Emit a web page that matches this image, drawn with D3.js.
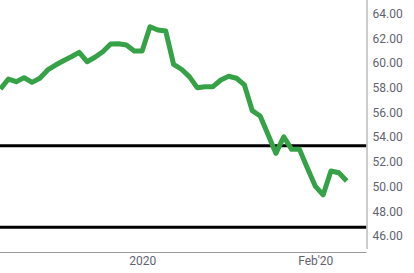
<!DOCTYPE html>
<html>
<head>
<meta charset="utf-8">
<script src="https://cdn.jsdelivr.net/npm/d3@7"></script>
<style>
  html, body { margin: 0; padding: 0; background: #fff; }
  .axis text { font-family: Roboto, Arial, sans-serif; font-size: 12px; fill: #5f6370; }
  .axis path { stroke: #9a9a9a; }
</style>
</head>
<body>
<div id="chart"></div>
<script>
const dates = [
  '2019-12-05', '2019-12-06', '2019-12-09', '2019-12-10', '2019-12-11', '2019-12-12', '2019-12-13',
  '2019-12-16', '2019-12-17', '2019-12-18', '2019-12-19', '2019-12-20', '2019-12-23', '2019-12-24',
  '2019-12-26', '2019-12-27', '2019-12-30', '2019-12-31', '2020-01-02', '2020-01-03', '2020-01-06',
  '2020-01-07', '2020-01-08', '2020-01-09', '2020-01-10', '2020-01-13', '2020-01-14', '2020-01-15',
  '2020-01-16', '2020-01-17', '2020-01-20', '2020-01-21', '2020-01-22', '2020-01-23', '2020-01-24',
  '2020-01-27', '2020-01-28', '2020-01-29', '2020-01-30', '2020-01-31', '2020-02-03', '2020-02-04',
  '2020-02-05', '2020-02-06', '2020-02-07'
];

const prices = [
  57.89, 58.70, 58.48, 58.81, 58.43, 58.76, 59.43,
  59.83, 60.18, 60.50, 60.86, 60.10, 60.46, 60.91,
  61.53, 61.55, 61.45, 60.97, 60.97, 62.93, 62.67,
  62.58, 59.89, 59.49, 58.89, 58.00, 58.08, 58.08,
  58.62, 58.92, 58.76, 58.22, 56.14, 55.71, 54.21,
  52.69, 54.03, 53.01, 53.01, 51.50, 50.04, 49.32,
  51.26, 51.12, 50.45
];

const levels = [53.3, 46.7];

const xTickDates = ['2020-01-02', '2020-02-03'];
const xTickLabels = ['2020', "Feb'20"];
const yTicks = [46, 48, 50, 52, 54, 56, 58, 60, 62, 64];

const width = 414;
const height = 273;
const plotRight = 366.5;
const plotBottom = 249;

const svg = d3.select('#chart')
  .append('svg')
  .attr('width', width)
  .attr('height', height);

const x = d3.scalePoint()
  .domain(dates)
  .range([0.5, 346.7]);

const y = d3.scaleLinear()
  .domain([46, 64])
  .range([236, 13.5]);

svg.append('clipPath')
  .attr('id', 'plot-clip')
  .append('rect')
  .attr('x', 0)
  .attr('y', 0)
  .attr('width', plotRight)
  .attr('height', plotBottom);

const plot = svg.append('g')
  .attr('clip-path', 'url(#plot-clip)');

// support / resistance levels
plot.selectAll('.level')
  .data(levels)
  .enter().append('line')
    .attr('class', 'level')
    .attr('x1', 0)
    .attr('x2', plotRight)
    .attr('y1', d => y(d))
    .attr('y2', d => y(d))
    .attr('stroke', '#000')
    .attr('stroke-width', 3);

const line = d3.line()
  .x((d, i) => x(dates[i]))
  .y(d => y(d));

plot.append('path')
  .datum(prices)
  .attr('d', line)
  .attr('fill', 'none')
  .attr('stroke', '#36a247')
  .attr('stroke-width', 5)
  .attr('stroke-linejoin', 'round');

// right value axis
const yAxis = svg.append('g')
  .attr('class', 'axis')
  .attr('transform', `translate(${plotRight},0)`)
  .call(d3.axisRight(y)
    .tickValues(yTicks)
    .tickSize(0)
    .tickPadding(6)
    .tickFormat(d3.format('.2f')));
yAxis.select('.domain').attr('d', `M0.5,0V${plotBottom}`);

// bottom time axis
const xAxis = svg.append('g')
  .attr('class', 'axis')
  .attr('transform', 'translate(0,252.5)')
  .call(d3.axisBottom(x)
    .tickValues(xTickDates)
    .tickSize(0)
    .tickPadding(4)
    .tickFormat(d => xTickLabels[xTickDates.indexOf(d)]));
xAxis.select('.domain').attr('d', `M0,0H${plotRight}`);
</script>
</body>
</html>
